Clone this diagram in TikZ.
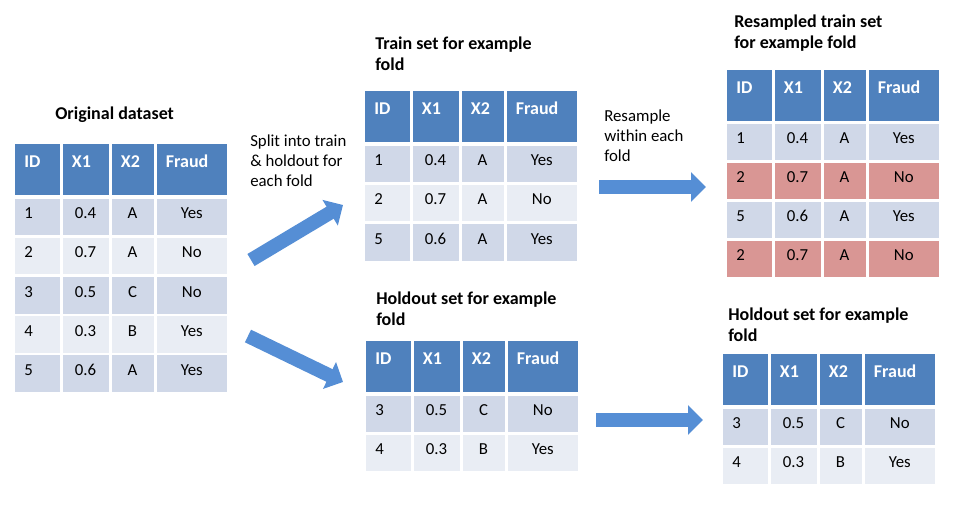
\documentclass[tikz,border=0pt]{standalone}
\usepackage{fontspec}
\setmainfont{Carlito}
\usepackage{tikz}
\usetikzlibrary{matrix,arrows.meta,positioning}
\definecolor{hdrblue}{RGB}{79,129,189}
\definecolor{rowdark}{RGB}{208,216,232}
\definecolor{rowlight}{RGB}{233,237,244}
\definecolor{rowred}{RGB}{217,150,148}
\definecolor{arrblue}{RGB}{85,142,213}
\tikzset{
  cell/.style={rectangle, inner xsep=7pt, inner ysep=0pt, outer sep=0pt, text height=15pt, text depth=12.4pt, font=\fontsize{12.6}{14.8}\selectfont},
  hdr/.style={fill=hdrblue, text=white, align=left, text height=17.25pt, text depth=21pt, font=\bfseries\fontsize{13.5}{15.4}\selectfont},
  datatable/.style={matrix of nodes, inner sep=0pt, outer sep=0pt, anchor=north west,
    column sep=2.25pt, row sep=1.9pt, nodes={cell},
    column 1/.style={nodes={text width=19.4pt, align=left}},
    column 2/.style={nodes={text width=20.5pt, align=center}},
    column 3/.style={nodes={text width=17.5pt, align=center}},
    column 4/.style={nodes={text width=38.9pt, align=center}},
    row 1/.style={nodes={hdr}},
    row 2/.style={nodes={fill=rowdark}},
    row 3/.style={nodes={fill=rowlight}},
    row 4/.style={nodes={fill=rowdark}},
    row 5/.style={nodes={fill=rowlight}},
    row 6/.style={nodes={fill=rowdark}}
  },
  redrows/.style={row 3/.style={nodes={fill=rowred}}, row 5/.style={nodes={fill=rowred}}},
  title/.style={inner sep=0pt, anchor=north west, align=left, font=\bfseries\fontsize{13.5}{15.4}\selectfont},
  note/.style={inner sep=0pt, anchor=north west, align=left, font=\fontsize{12.6}{14.8}\selectfont},
  bigarrow/.style={draw=arrblue, line width=10.5pt, -{Triangle[length=11.25pt, width=21.75pt]}},
}

\begin{document}
\begin{tikzpicture}[x=0.75pt, y=-0.75pt]
  \useasboundingbox (0,0) rectangle (964,515);

  % original data
  \node[title] (origtitle) at (55,107) {Original dataset};
  \matrix[datatable] (orig) at (15,144) {
    ID & X1 & X2 & Fraud \\[1pt]
    1 & 0.4 & A & Yes \\
    2 & 0.7 & A & No \\
    3 & 0.5 & C & No \\
    4 & 0.3 & B & Yes \\
    5 & 0.6 & A & Yes \\
  };

  % split
  \node[note] (splittxt) at (250,135) {Split into train\\\& holdout for\\each fold};
  \coordinate (up0) at (251,260);
  \coordinate (up1) at (343,205);
  \coordinate (dn0) at (248,336);
  \coordinate (dn1) at (343,382);

  % train fold
  \node[title] (traintitle) at (375,37) {Train set for example\\fold};
  \matrix[datatable] (train) at (365,91) {
    ID & X1 & X2 & Fraud \\[1pt]
    1 & 0.4 & A & Yes \\
    2 & 0.7 & A & No \\
    5 & 0.6 & A & Yes \\
  };

  % holdout fold
  \node[title] (holdtitle) at (376,292) {Holdout set for example\\fold};
  \matrix[datatable] (hold) at (366,341) {
    ID & X1 & X2 & Fraud \\[1pt]
    3 & 0.5 & C & No \\
    4 & 0.3 & B & Yes \\
  };

  % resample
  \node[note] (restxt) at (604,110) {Resample\\within each\\fold};
  \coordinate (mid0) at (599,187);
  \coordinate (mid1) at (706,187);
  \coordinate (low0) at (596,420);
  \coordinate (low1) at (703,420);

  \node[title] (restitle) at (734,15) {Resampled train set\\for example fold};
  \matrix[datatable, redrows] (resamp) at (727,70) {
    ID & X1 & X2 & Fraud \\
    1 & 0.4 & A & Yes \\
    2 & 0.7 & A & No \\
    5 & 0.6 & A & Yes \\
    2 & 0.7 & A & No \\
  };

  \node[title] (hold2title) at (728,308) {Holdout set for example\\fold};
  \matrix[datatable] (hold2) at (723,354) {
    ID & X1 & X2 & Fraud \\[1pt]
    3 & 0.5 & C & No \\
    4 & 0.3 & B & Yes \\
  };

  \draw[bigarrow] (up0) -- (up1);
  \draw[bigarrow] (dn0) -- (dn1);
  \draw[bigarrow] (mid0) -- (mid1);
  \draw[bigarrow] (low0) -- (low1);
\end{tikzpicture}
\end{document}
